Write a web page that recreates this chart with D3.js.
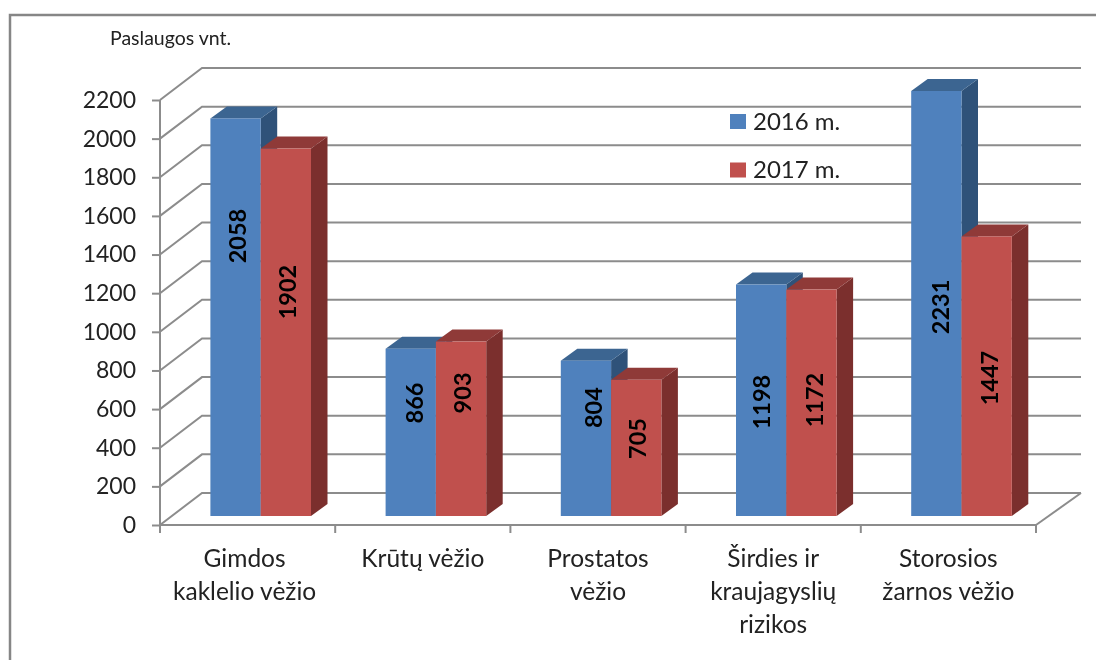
<!DOCTYPE html>
<html>
<head>
<meta charset="utf-8">
<script src="https://cdnjs.cloudflare.com/ajax/libs/d3/7.8.5/d3.min.js"></script>
<style>
  html, body { margin: 0; padding: 0; background: #fff; }
  svg { display: block; }
  text { font-family: Lato, "Open Sans", sans-serif; fill: #222; }
  .soft { filter: blur(0.5px); }
  .axis path, .axis line { stroke: #8c8c8c; stroke-width: 2; }
  .y.axis text { font-size: 23px; }
  .cat { font-size: 24.5px; }
  .grid { stroke: #8c8c8c; stroke-width: 2; fill: none; }
  .barlabel { font-size: 23.5px; font-weight: 700; fill: #000; text-anchor: middle; }
</style>
</head>
<body>
<div id="stage_id"></div>
<script>
var categories = [
  ["Gimdos", "kaklelio vėžio"],
  ["Krūtų vėžio"],
  ["Prostatos", "vėžio"],
  ["Širdies ir", "kraujagyslių", "rizikos"],
  ["Storosios", "žarnos vėžio"]
];
var seriesNames = ["2016 m.", "2017 m."];
var values2016 = [2058, 866, 804, 1198, 2231];
var values2017 = [1902, 903, 705, 1172, 1447];
var yTicks = [0, 200, 400, 600, 800, 1000, 1200, 1400, 1600, 1800, 2000, 2200];

// where the labels were dragged to in the original, in axis units
var labelAt2016 = [1449, 585, 561, 590, 1082];
var labelAt2017 = [1159, 637, 401, 600, 714];
// sideways shift of the same labels, px from bar centre to text baseline
var labelShift2016 = [10, 12, 16, 9, 13];
var labelShift2017 = [10, 10, 10, 12, 11];

var colors = {
  "2016 m.": {front: "#4f81bd", top: "#3c6591", side: "#2f5279"},
  "2017 m.": {front: "#c0504d", top: "#8f3a38", side: "#7b2f2d"}
};

var width = 1096, height = 660;
var left = 160, right = 1036, top0 = 100, bottom = 525;
var wallDx = 42, wallDy = 32;   // depth of the 3d box
var barDx = 16.5, barDy = 12;   // depth of one bar
var floorDy = 9;                // bars stand a bit behind the front edge

var svg = d3.select("#stage_id").append("svg")
  .attr("width", width)
  .attr("height", height);

var root = svg.append("g").attr("class", "soft");

var xScale = d3.scaleBand().domain(d3.range(categories.length)).range([left, right]);
var barX = d3.scaleBand().domain(seriesNames).range([50.4, 151]);
// 2231 is cut off by the axis maximum in the original too
var yScale = d3.scaleLinear().domain([0, 2200]).range([bottom, top0]).clamp(true);

// frame
root.append("path")
  .attr("d", "M10,660V15H1096")
  .attr("fill", "none")
  .attr("stroke", "#868686")
  .attr("stroke-width", 2.5);

// back wall + left wall lines
yTicks.forEach(function (t) {
  var y = yScale(t);
  root.append("path")
    .attr("class", "grid")
    .attr("d", "M" + left + "," + y + "L" + (left + wallDx) + "," + (y - wallDy) + "H" + (right + wallDx + 3));
});
root.append("line")
  .attr("class", "grid")
  .attr("x1", right).attr("y1", bottom)
  .attr("x2", right + wallDx + 3).attr("y2", bottom - wallDy);

// axes
var yAxis = d3.axisLeft(yScale).tickValues(yTicks).tickSize(8).tickPadding(16).tickFormat(d3.format("d"));
var xAxis = d3.axisBottom(xScale).tickValues([]).tickSizeOuter(0);

root.append("g")
  .attr("class", "y axis")
  .attr("transform", "translate(" + left + ",0)")
  .call(yAxis)
  .select(".domain").attr("d", "M0," + top0 + "V" + bottom);

var gX = root.append("g")
  .attr("class", "x axis")
  .attr("transform", "translate(0," + bottom + ")")
  .call(xAxis);
gX.select(".domain").attr("d", "M" + left + ",0H" + right);

// tick marks sit between the categories
gX.selectAll(".sep")
  .data(d3.range(categories.length + 1))
  .enter().append("line")
  .attr("x1", function (d) { return left + d * xScale.bandwidth(); })
  .attr("x2", function (d) { return left + d * xScale.bandwidth(); })
  .attr("y1", 0).attr("y2", 8);

var catLabels = gX.selectAll(".cat")
  .data(categories)
  .enter().append("text")
  .attr("class", "cat")
  .attr("text-anchor", "middle")
  .attr("fill", "#222")
  .attr("transform", function (d, i) {
    return "translate(" + (xScale(i) + xScale.bandwidth() / 2 - (i == 0 ? 3 : 0)) + ",0)";
  });

catLabels.selectAll("tspan")
  .data(function (d) { return d; })
  .enter().append("tspan")
  .attr("x", 0)
  .attr("y", function (d, i) { return 42 + i * 33; })
  .text(function (d) { return d; });

// bars
function drawSeries(name, values) {
  var c = colors[name];
  var w = barX.bandwidth();
  var g = root.append("g").attr("class", "series");

  values.forEach(function (v, i) {
    var x0 = xScale(i) + barX(name);
    var x1 = x0 + w;
    var y0 = yScale(v) - floorDy;
    var y1 = bottom - floorDy;

    g.append("polygon")
      .attr("fill", c.side)
      .attr("points", [[x1, y0], [x1 + barDx, y0 - barDy], [x1 + barDx, y1 - barDy], [x1, y1]].join(" "));
    g.append("polygon")
      .attr("fill", c.top)
      .attr("points", [[x0, y0], [x0 + barDx, y0 - barDy], [x1 + barDx, y0 - barDy], [x1, y0]].join(" "));
    g.append("rect")
      .attr("fill", c.front)
      .attr("x", x0).attr("y", y0)
      .attr("width", w).attr("height", y1 - y0);
  });
}

drawSeries(seriesNames[0], values2016);
drawSeries(seriesNames[1], values2017);

// labels go on top of everything
function drawLabels(name, values, labelAt, labelShift) {
  values.forEach(function (v, i) {
    var cx = xScale(i) + barX(name) + barX.bandwidth() / 2 + labelShift[i];
    var cy = yScale(labelAt[i]) - floorDy;
    root.append("text")
      .attr("class", "barlabel")
      .attr("transform", "translate(" + cx + "," + cy + ") rotate(-90)")
      .text(v);
  });
}
drawLabels(seriesNames[0], values2016, labelAt2016, labelShift2016);
drawLabels(seriesNames[1], values2017, labelAt2017, labelShift2017);

// legend
var legend = root.selectAll(".legend")
  .data(seriesNames)
  .enter().append("g")
  .attr("class", "legend")
  .attr("transform", function (d, i) { return "translate(730," + (114 + i * 48.5) + ")"; });

legend.append("rect")
  .attr("width", 16).attr("height", 15)
  .attr("fill", function (d) { return colors[d].front; });

legend.append("text")
  .attr("x", 23).attr("y", 15.5)
  .style("font-size", "24px")
  .text(function (d) { return d; });

// unit caption
root.append("text")
  .attr("x", 110).attr("y", 45)
  .style("font-size", "19.5px")
  .text("Paslaugos vnt.");
</script>
</body>
</html>
